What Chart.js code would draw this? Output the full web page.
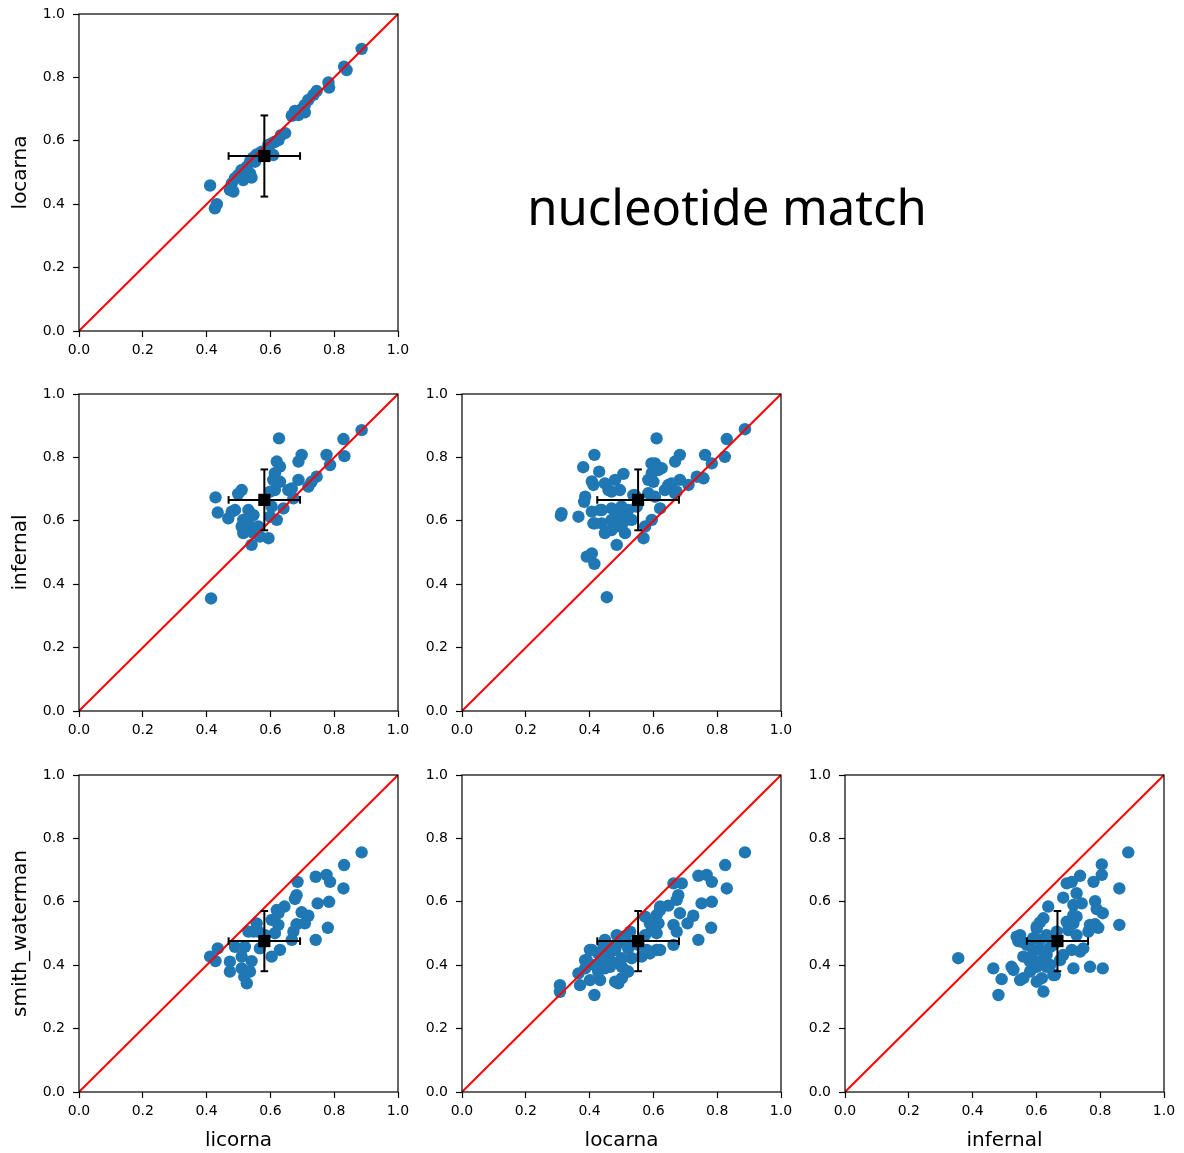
<!DOCTYPE html>
<html><head><meta charset="utf-8">
<script src="https://cdn.jsdelivr.net/npm/chart.js@4"></script>
<style>
html,body{margin:0;padding:0;background:#fff;}
body{width:1184px;height:1153px;position:relative;overflow:hidden;}
canvas{position:absolute;}
#title{position:absolute;left:427px;width:600px;top:182px;text-align:center;font-family:'Noto Sans';font-size:49px;line-height:49px;color:#000;white-space:nowrap;}
</style></head><body>
<div id="title">nucleotide match</div>
<canvas id="c0"></canvas><canvas id="c1"></canvas><canvas id="c2"></canvas>
<canvas id="c3"></canvas><canvas id="c4"></canvas><canvas id="c5"></canvas>
<script>
// ---------- data ----------
const methods = ['licorna', 'locarna', 'infernal', 'smith_waterman'];
const methodMean = [0.581, 0.552, 0.666, 0.476];
const methodStd  = [0.112, 0.128, 0.096, 0.095];
const tickValues = [0, 0.2, 0.4, 0.6, 0.8, 1.0];

// licorna (x) vs locarna (y)
const licLoc_x = [0.886,0.831,0.839,0.782,0.784,0.745,0.735,0.719,0.708,0.698,0.677,0.667,0.688,0.708,0.646,0.633,0.625,0.614,0.604,0.594,0.588,0.573,0.557,0.546,0.552,0.536,0.526,0.510,0.536,0.541,0.499,0.489,0.479,0.473,0.484,0.411,0.432,0.426,0.515,0.609];
const licLoc_y = [0.890,0.834,0.823,0.784,0.768,0.757,0.745,0.729,0.713,0.700,0.694,0.679,0.681,0.690,0.624,0.618,0.602,0.597,0.592,0.587,0.571,0.566,0.557,0.547,0.534,0.534,0.518,0.508,0.497,0.484,0.492,0.482,0.466,0.445,0.440,0.459,0.400,0.387,0.476,0.555];

// licorna (x) vs infernal (y)
const licInf_x = [0.886,0.829,0.832,0.627,0.698,0.688,0.776,0.787,0.620,0.630,0.614,0.609,0.630,0.745,0.729,0.719,0.688,0.667,0.672,0.641,0.510,0.499,0.428,0.435,0.468,0.479,0.489,0.515,0.531,0.547,0.531,0.515,0.547,0.562,0.604,0.599,0.620,0.594,0.541,0.567,0.414,0.599,0.531,0.510,0.656,0.614];
const licInf_y = [0.886,0.858,0.804,0.860,0.808,0.787,0.808,0.776,0.787,0.771,0.750,0.729,0.723,0.739,0.723,0.708,0.729,0.702,0.671,0.639,0.697,0.685,0.674,0.626,0.608,0.629,0.634,0.603,0.634,0.618,0.582,0.561,0.561,0.582,0.645,0.613,0.603,0.545,0.524,0.550,0.355,0.692,0.603,0.582,0.697,0.697];

// locarna (x) vs infernal (y)
const locInf_x = [0.887,0.830,0.824,0.762,0.783,0.683,0.668,0.610,0.605,0.615,0.595,0.600,0.584,0.415,0.380,0.430,0.506,0.480,0.412,0.448,0.495,0.386,0.383,0.310,0.365,0.407,0.412,0.438,0.469,0.490,0.448,0.480,0.485,0.511,0.511,0.569,0.595,0.621,0.647,0.683,0.668,0.710,0.736,0.757,0.391,0.407,0.415,0.454,0.537,0.548,0.532,0.500,0.469,0.438,0.605,0.636,0.407,0.469,0.500,0.521,0.469,0.584,0.626,0.657,0.673,0.574,0.459,0.433,0.417,0.485,0.480,0.516,0.542,0.312,0.594];
const locInf_y = [0.889,0.858,0.802,0.808,0.781,0.808,0.787,0.860,0.781,0.760,0.750,0.723,0.687,0.808,0.769,0.755,0.748,0.729,0.713,0.718,0.697,0.676,0.660,0.616,0.613,0.629,0.592,0.634,0.639,0.618,0.561,0.582,0.524,0.603,0.561,0.545,0.603,0.639,0.713,0.729,0.687,0.713,0.739,0.734,0.487,0.497,0.464,0.359,0.681,0.645,0.603,0.645,0.603,0.592,0.676,0.697,0.724,0.571,0.582,0.634,0.692,0.729,0.766,0.718,0.692,0.582,0.697,0.634,0.592,0.624,0.582,0.603,0.681,0.624,0.781];

// licorna (x) vs smith_waterman (y)
const licSw_x = [0.886,0.831,0.829,0.742,0.776,0.787,0.685,0.682,0.677,0.644,0.620,0.748,0.784,0.698,0.719,0.708,0.682,0.672,0.780,0.742,0.667,0.625,0.604,0.557,0.547,0.614,0.630,0.604,0.567,0.520,0.489,0.435,0.411,0.428,0.473,0.510,0.541,0.473,0.510,0.536,0.518,0.526,0.583,0.625,0.562,0.531];
const licSw_y = [0.756,0.716,0.642,0.679,0.685,0.663,0.663,0.621,0.609,0.585,0.574,0.595,0.600,0.567,0.556,0.532,0.529,0.506,0.518,0.480,0.480,0.527,0.543,0.532,0.506,0.501,0.448,0.427,0.453,0.458,0.458,0.453,0.427,0.413,0.411,0.427,0.413,0.380,0.390,0.380,0.364,0.343,0.495,0.564,0.506,0.506];

// locarna (x) vs smith_waterman (y)
const locSw_x = [0.887,0.825,0.830,0.741,0.767,0.783,0.663,0.689,0.678,0.673,0.751,0.783,0.647,0.621,0.610,0.683,0.725,0.707,0.781,0.741,0.663,0.673,0.663,0.616,0.595,0.574,0.610,0.589,0.563,0.521,0.485,0.448,0.407,0.427,0.386,0.365,0.307,0.307,0.370,0.401,0.415,0.480,0.501,0.521,0.469,0.501,0.480,0.448,0.427,0.553,0.516,0.527,0.574,0.417,0.459,0.501,0.386,0.532,0.443,0.485,0.401,0.422,0.391,0.443,0.464,0.490,0.516,0.474,0.506,0.579,0.621,0.610,0.589,0.621,0.433];
const locSw_y = [0.756,0.716,0.642,0.682,0.685,0.663,0.658,0.658,0.621,0.606,0.595,0.600,0.588,0.585,0.558,0.564,0.556,0.532,0.518,0.480,0.527,0.506,0.464,0.532,0.511,0.553,0.448,0.437,0.427,0.453,0.495,0.480,0.448,0.437,0.416,0.374,0.337,0.316,0.337,0.353,0.306,0.348,0.359,0.380,0.411,0.422,0.448,0.390,0.380,0.464,0.474,0.506,0.495,0.401,0.432,0.395,0.390,0.422,0.464,0.464,0.448,0.395,0.416,0.416,0.395,0.343,0.380,0.458,0.490,0.448,0.448,0.501,0.532,0.574,0.353];

// infernal (x) vs smith_waterman (y)
const infSw_x = [0.888,0.805,0.805,0.779,0.737,0.695,0.711,0.860,0.726,0.684,0.637,0.716,0.742,0.784,0.789,0.808,0.860,0.784,0.794,0.768,0.726,0.716,0.700,0.622,0.611,0.601,0.549,0.543,0.611,0.726,0.747,0.711,0.768,0.808,0.355,0.465,0.491,0.481,0.522,0.559,0.559,0.580,0.601,0.622,0.611,0.632,0.658,0.716,0.684,0.643,0.590,0.653,0.570,0.664,0.528,0.716,0.695,0.763,0.632,0.590,0.580,0.617,0.549,0.737,0.538,0.554,0.601,0.632,0.674,0.611,0.643,0.585,0.653,0.601];
const infSw_y = [0.756,0.718,0.685,0.663,0.682,0.658,0.663,0.642,0.627,0.613,0.585,0.590,0.595,0.602,0.577,0.564,0.527,0.529,0.518,0.527,0.553,0.532,0.511,0.548,0.535,0.516,0.495,0.476,0.480,0.495,0.453,0.448,0.395,0.390,0.422,0.390,0.356,0.306,0.395,0.427,0.359,0.380,0.348,0.317,0.411,0.432,0.369,0.390,0.432,0.401,0.448,0.464,0.464,0.506,0.385,0.558,0.537,0.506,0.495,0.485,0.411,0.359,0.353,0.443,0.490,0.474,0.395,0.395,0.416,0.448,0.458,0.427,0.369,0.522];

// ---------- layout ----------
const colLeft = [79, 462, 845], rowTop = [14, 394, 775];
const plotW = 319, plotH = 317, padTop = 20, padRight = 18;
const panels = [
  {id:'c0', col:0, row:0, xs:licLoc_x, ys:licLoc_y, xm:0, ym:1},
  {id:'c1', col:0, row:1, xs:licInf_x, ys:licInf_y, xm:0, ym:2},
  {id:'c2', col:1, row:1, xs:locInf_x, ys:locInf_y, xm:1, ym:2},
  {id:'c3', col:0, row:2, xs:licSw_x,  ys:licSw_y,  xm:0, ym:3},
  {id:'c4', col:1, row:2, xs:locSw_x,  ys:locSw_y,  xm:1, ym:3},
  {id:'c5', col:2, row:2, xs:infSw_x,  ys:infSw_y,  xm:2, ym:3}
];

const framePlugin = {
  id: 'frame',
  afterDatasetsDraw(chart) {
    const {ctx, chartArea: a} = chart;
    ctx.save();
    ctx.strokeStyle = '#000';
    ctx.lineWidth = 1.2;
    ctx.strokeRect(a.left, a.top, a.right - a.left, a.bottom - a.top);
    ctx.restore();
  }
};

const FONT = "'DejaVu Sans'";

panels.forEach(p => {
  const yW = p.col === 0 ? 79 : 52;
  const xH = p.row === 2 ? 61 : 40;
  const cw = yW + plotW + padRight;
  const ch = padTop + plotH + xH;
  const cv = document.getElementById(p.id);
  cv.width = cw; cv.height = ch;
  cv.style.width = cw + 'px'; cv.style.height = ch + 'px';
  cv.style.left = (colLeft[p.col] - yW) + 'px';
  cv.style.top = (rowTop[p.row] - padTop) + 'px';

  const mx = methodMean[p.xm], my = methodMean[p.ym];
  const sx = methodStd[p.xm], sy = methodStd[p.ym];

  const axisCommon = {
    type: 'linear', min: 0, max: 1,
    afterBuildTicks: s => { s.ticks = tickValues.map(v => ({value: v})); },
    grid: {display: true, drawOnChartArea: false, drawTicks: true, tickLength: 6,
           tickWidth: 1.2, tickColor: '#000', color: '#000'},
    border: {display: false}
  };

  new Chart(cv, {
    type: 'scatter',
    data: {
      datasets: [
        { // mean marker
          data: [{x: mx, y: my}], pointStyle: 'rect', pointRadius: 8.6, pointHoverRadius: 8.6,
          backgroundColor: '#000', borderColor: '#000', borderWidth: 0, order: 1
        },
        { // horizontal error bar
          data: [{x: mx - sx, y: my}, {x: mx + sx, y: my}], showLine: true,
          borderColor: '#000', borderWidth: 2, pointStyle: 'line', pointRotation: 90,
          pointRadius: 3.8, pointHoverRadius: 3.8, pointBorderColor: '#000', pointBorderWidth: 2, order: 2
        },
        { // vertical error bar
          data: [{x: mx, y: my - sy}, {x: mx, y: my + sy}], showLine: true,
          borderColor: '#000', borderWidth: 2, pointStyle: 'line', pointRotation: 0,
          pointRadius: 3.8, pointHoverRadius: 3.8, pointBorderColor: '#000', pointBorderWidth: 2, order: 2
        },
        { // diagonal
          data: [{x: 0, y: 0}, {x: 1, y: 1}], showLine: true, borderColor: '#ff0000',
          borderWidth: 2, pointRadius: 0, pointHoverRadius: 0, order: 3
        },
        { // scatter points
          data: p.xs.map((v, i) => ({x: v, y: p.ys[i]})),
          backgroundColor: '#1f77b4', borderWidth: 0, pointRadius: 6.2, pointHoverRadius: 6.2, order: 4
        }
      ]
    },
    options: {
      responsive: false, animation: false, devicePixelRatio: 1,
      layout: {padding: {left: 0, top: padTop, right: padRight, bottom: 0}},
      plugins: {legend: {display: false}, tooltip: {enabled: false}},
      events: [],
      scales: {
        x: Object.assign({}, axisCommon, {
          position: 'bottom',
          afterFit: s => { s.height = xH; },
          ticks: {color: '#000', font: {family: FONT, size: 14}, padding: 5, maxRotation: 0,
                  callback: v => Number(v).toFixed(1)},
          title: {display: p.row === 2, text: methods[p.xm], color: '#000',
                  font: {family: FONT, size: 20}, padding: {top: 8, bottom: 0}}
        }),
        y: Object.assign({}, axisCommon, {
          position: 'left',
          afterFit: s => { s.width = yW; },
          ticks: {color: '#000', font: {family: FONT, size: 14}, padding: 8,
                  callback: v => Number(v).toFixed(1)},
          title: {display: p.col === 0, text: methods[p.ym], color: '#000',
                  font: {family: FONT, size: 20}, padding: {top: 9, bottom: 0}}
        })
      }
    },
    plugins: [framePlugin]
  });
});
</script>
</body></html>
